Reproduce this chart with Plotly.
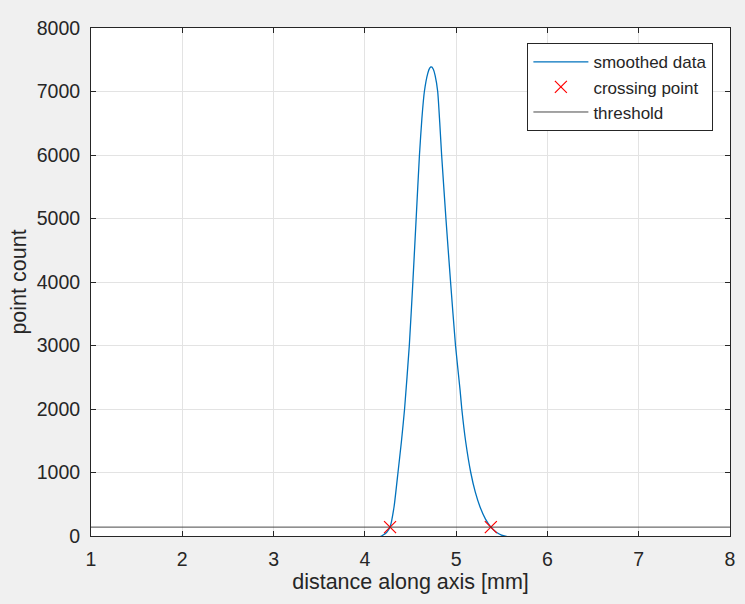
import plotly.graph_objects as go

# smoothed data
dist_mm = [1.575, 2.0, 2.5, 3.0, 3.5, 4.0, 4.1, 4.157, 4.20, 4.24, 4.276, 4.32,
           4.363, 4.40, 4.435, 4.487, 4.526, 4.562, 4.598, 4.625, 4.652,
           4.69, 4.71, 4.728, 4.75, 4.77, 4.798, 4.82, 4.841, 4.888, 4.939, 4.993,
           5.043, 5.062, 5.105, 5.16, 5.21, 5.261, 5.32, 5.38, 5.44, 5.497, 5.55, 5.6,
           6.0, 6.5, 7.0, 7.5, 7.76]
point_count = [-15, -15, -15, -15, -15, -15, -15, -15, 15, 60, 140, 461,
               1000, 1480, 2000, 3000, 4000, 5000, 6000, 6580, 7000,
               7290, 7368, 7390, 7350, 7250, 7000, 6520, 6000, 5000, 4000, 3000,
               2300, 2000, 1480, 1000, 690, 461, 270, 140, 60, 15, -5, -15,
               -15, -15, -15, -15, -15]

# crossing points and threshold
cross_x = [4.276, 5.380]
threshold = 140
thr_x = [1, 8]

x_ticks = [1, 2, 3, 4, 5, 6, 7, 8]
y_ticks = [0, 1000, 2000, 3000, 4000, 5000, 6000, 7000, 8000]

axc = "#262626"
font_family = "Liberation Sans, Arial, sans-serif"

fig = go.Figure()
fig.add_trace(go.Scatter(x=dist_mm, y=point_count, mode="lines", name="smoothed data",
                         line=dict(color="#0072BD", width=1.3, shape="spline", smoothing=0.5)))
fig.add_trace(go.Scatter(x=cross_x, y=[threshold] * len(cross_x), mode="markers",
                         name="crossing point",
                         marker=dict(symbol="x-thin", size=12, color="#FF0000",
                                     line=dict(width=1.2, color="#FF0000"))))
fig.add_trace(go.Scatter(x=thr_x, y=[threshold] * len(thr_x), mode="lines", name="threshold",
                         line=dict(color="#333333", width=0.9)))

fig.update_layout(
    width=745, height=604,
    margin=dict(l=91, r=10, t=28, b=68),
    paper_bgcolor="#F0F0F0", plot_bgcolor="white",
    font=dict(family=font_family, color=axc, size=19.5),
    showlegend=True,
    legend=dict(x=0.974, y=0.970, xanchor="right", yanchor="top",
                bgcolor="white", bordercolor=axc, borderwidth=1,
                font=dict(size=17, color=axc), tracegroupgap=0, itemwidth=55),
)
fig.update_xaxes(range=[1, 8], tickvals=x_ticks, ticks="inside", ticklen=5, tickcolor=axc,
                 showline=True, linecolor=axc, linewidth=1, mirror="ticks",
                 showgrid=True, gridcolor="#E3E3E3", gridwidth=1, zeroline=False,
                 tickfont=dict(size=19.5, color=axc), ticklabelstandoff=6,
                 title=dict(text="distance along axis [mm]", font=dict(size=21.5, color=axc),
                            standoff=4))
fig.update_yaxes(range=[0, 8000], tickvals=y_ticks, ticks="inside", ticklen=5, tickcolor=axc,
                 showline=True, linecolor=axc, linewidth=1, mirror="ticks",
                 showgrid=True, gridcolor="#E3E3E3", gridwidth=1, zeroline=False,
                 tickfont=dict(size=19.5, color=axc), ticklabelstandoff=6,
                 title=dict(text="point count", font=dict(size=21.5, color=axc), standoff=4))

fig.write_html("out.html")
